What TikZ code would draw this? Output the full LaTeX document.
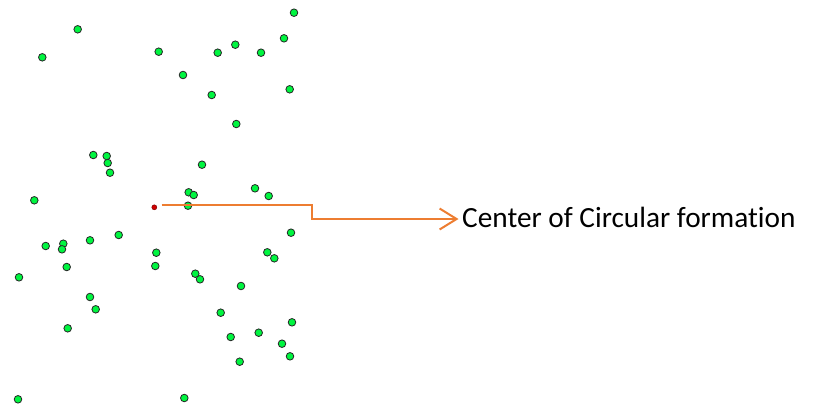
\documentclass[tikz,border=0pt]{standalone}
\usepackage{fontspec}
\setmainfont[Ligatures={NoCommon}]{Carlito}
\usetikzlibrary{arrows.meta}
\definecolor{dotgreen}{RGB}{0,245,64}
\definecolor{dotred}{RGB}{210,0,0}
\definecolor{lineorange}{RGB}{237,125,49}
\begin{document}
\begin{tikzpicture}[x=1pt,y=-1pt,
  dot/.style={circle,draw=black!85,line width=0.8pt,fill=dotgreen,minimum size=7.6pt,inner sep=0pt},
  centre/.style={circle,draw=black!50!red,line width=0.5pt,fill=dotred,minimum size=5pt,inner sep=0pt},
  conn/.style={draw=lineorange,line width=2pt,-{Straight Barb[length=17pt,width=21pt,line width=2pt]}},
  lbl/.style={inner sep=0pt,font=\fontsize{29.3}{35}\selectfont,text=black}]
\useasboundingbox (0,0) rectangle (814,410);
\foreach \n/\x/\y in {1/294/12.7,2/77.7/29.3,3/42.3/57.3,4/158.7/51.7,5/217.7/52.7,6/235.3/44.7,
  7/261/52.7,8/284/38.3,9/183/75,10/289.7/89.3,11/211.7/95,12/236.3/124,
  13/93.3/155,14/106.7/156,15/107.7/163,16/110/172.7,17/202/164.7,18/34.3/200.3,
  19/188.7/192.3,20/193.7/195,21/255/188.3,22/268.7/196,23/188/205.7,
  24/291/232.7,25/118.7/235,26/90/240.3,27/45.7/246,28/63.3/243.7,29/62/249.3,
  30/156.3/252.7,31/267.3/252.3,32/274.3/258.3,33/155.3/266,34/66.7/267,
  35/19/277.3,36/195.3/273.7,37/200/279.3,38/241/286,39/90/297,40/95.7/309.3,
  41/67.7/328.3,42/220.7/312.7,43/292/322.3,44/258.7/332.7,45/230.7/337,
  46/282/343.7,47/290/356.3,48/239.7/361.7,49/18/399.3,50/184.3/398}
  \node[dot] (d\n) at (\x,\y) {};
\node[centre] (c) at (154.3,207.3) {};
\coordinate (b1) at (311.7,205.3);
\coordinate (b2) at (311.7,219);
\node[lbl,anchor=base west] (lab) at (462,227.5) {Center of Circular formation};
\draw[conn] ([xshift=7.4pt]c.center |- b1) -- (b1) -- (b2) -- ([xshift=-3.5pt]lab.west |- b2);
\end{tikzpicture}
\end{document}
